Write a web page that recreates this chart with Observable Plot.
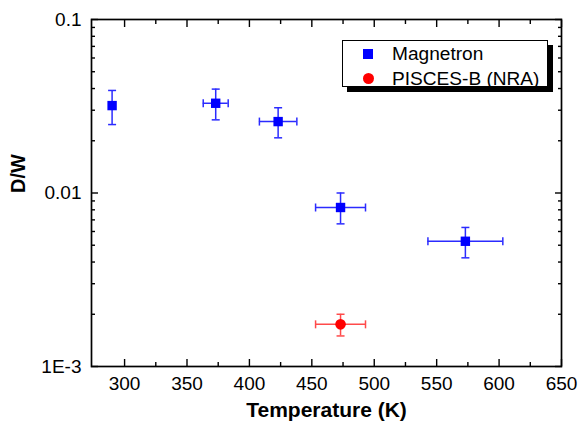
<!DOCTYPE html>
<html><head><meta charset="utf-8">
<script src="https://cdn.jsdelivr.net/npm/d3@7"></script>
<script src="https://cdn.jsdelivr.net/npm/@observablehq/plot@0.6"></script>
<style>
body{margin:0;background:#fff;font-family:"Liberation Sans",Arial,sans-serif;}
#wrap{position:relative;width:579px;height:425px;}
#legend{position:absolute;left:342px;top:40px;width:204px;height:45px;border:1px solid #000;background:#fff;box-shadow:5px 5px 0 #000;font-size:19.1px;color:#000;}
#legend .row{position:absolute;left:0;height:22px;line-height:22px;white-space:nowrap;}
#legend .sw{position:absolute;left:20px;top:6px;width:10px;height:10px;}
#legend .tx{position:absolute;left:49px;top:0;}
</style></head><body><div id="wrap"></div>
<script>
// data
const series = ["Magnetron","Magnetron","Magnetron","Magnetron","Magnetron","PISCES-B (NRA)"];
const temperature = [290, 373, 423, 473, 573, 473];
const tempErr = [0, 10, 15, 20, 30, 20];
const dw = [0.0319, 0.0329, 0.0258, 0.00825, 0.00527, 0.00175];
const dwLow = [0.0248, 0.0264, 0.0208, 0.00664, 0.00423, 0.00150];
const dwHigh = [0.0390, 0.0397, 0.0310, 0.0100, 0.00633, 0.00200];

const legendNames = ["Magnetron", "PISCES-B (NRA)"];
const legendColors = ["#0000ff", "#ff0000"];
const errColors = {"Magnetron": "#2b2bff", "PISCES-B (NRA)": "#ff4a4a"};

const xMajor = [300, 350, 400, 450, 500, 550, 600, 650];
const xMinor = [325, 375, 425, 475, 525, 575, 625];
const yMajor = [0.001, 0.01, 0.1];
const yMajorLabels = ["1E-3", "0.01", "0.1"];
const yMinor = [0.002,0.003,0.004,0.005,0.006,0.007,0.008,0.009,0.02,0.03,0.04,0.05,0.06,0.07,0.08,0.09];

const rows = series.map((s, i) => ({
  s, x: temperature[i], xe: tempErr[i], y: dw[i], lo: dwLow[i], hi: dwHigh[i]
}));
const xErrRows = rows.filter(d => d.xe > 0);

const capV = {draw(ctx, size){ const h = Math.sqrt(size / Math.PI); ctx.moveTo(0, -h); ctx.lineTo(0, h); }};
const capH = {draw(ctx, size){ const h = Math.sqrt(size / Math.PI); ctx.moveTo(-h, 0); ctx.lineTo(h, 0); }};

const fontTick = 19;
const chart = Plot.plot({
  width: 579, height: 425,
  marginLeft: 91, marginRight: 18, marginTop: 19, marginBottom: 59,
  style: {fontFamily: '"Liberation Sans", Arial, sans-serif', background: "#fff", color: "#000"},
  x: {domain: [273.5, 650]},
  y: {type: "log", domain: [0.001, 0.1]},
  marks: [
    Plot.axisX({anchor: "bottom", ticks: xMajor, tickSize: -7, tickPadding: 17, fontSize: fontTick, tickFormat: d => String(d), label: null, strokeWidth: 1.4}),
    Plot.axisX({anchor: "bottom", ticks: xMinor, tickSize: -4, tickFormat: () => "", label: null, strokeWidth: 1.4}),
    Plot.axisX({anchor: "top", ticks: xMajor, tickSize: -7, tickFormat: () => "", label: null, strokeWidth: 1.4}),
    Plot.axisX({anchor: "top", ticks: xMinor, tickSize: -4, tickFormat: () => "", label: null, strokeWidth: 1.4}),
    Plot.axisY({anchor: "left", ticks: yMajor, tickSize: -7, tickPadding: 17, fontSize: fontTick, tickFormat: d => yMajorLabels[yMajor.indexOf(d)], label: null, strokeWidth: 1.4}),
    Plot.axisY({anchor: "left", ticks: yMinor, tickSize: -4, tickFormat: () => "", label: null, strokeWidth: 1.4}),
    Plot.axisY({anchor: "right", ticks: yMajor, tickSize: -7, tickFormat: () => "", label: null, strokeWidth: 1.4}),
    Plot.axisY({anchor: "right", ticks: yMinor, tickSize: -4, tickFormat: () => "", label: null, strokeWidth: 1.4}),
    Plot.frame({stroke: "#000", strokeWidth: 1.7}),
    Plot.text(["Temperature (K)"], {frameAnchor: "bottom", dy: 44, fontSize: 21, fontWeight: "bold", lineAnchor: "middle"}),
    Plot.text(["D/W"], {frameAnchor: "left", dx: -73, rotate: -90, fontSize: 20, fontWeight: "bold"}),
    Plot.ruleX(rows, {x: "x", y1: "lo", y2: "hi", stroke: d => errColors[d.s], strokeWidth: 1.5}),
    Plot.dot(rows, {x: "x", y: "lo", symbol: capH, r: 4, stroke: d => errColors[d.s], strokeWidth: 1.5}),
    Plot.dot(rows, {x: "x", y: "hi", symbol: capH, r: 4, stroke: d => errColors[d.s], strokeWidth: 1.5}),
    Plot.ruleY(xErrRows, {y: "y", x1: d => d.x - d.xe, x2: d => d.x + d.xe, stroke: d => errColors[d.s], strokeWidth: 1.5}),
    Plot.dot(xErrRows, {x: d => d.x - d.xe, y: "y", symbol: capV, r: 4, stroke: d => errColors[d.s], strokeWidth: 1.5}),
    Plot.dot(xErrRows, {x: d => d.x + d.xe, y: "y", symbol: capV, r: 4, stroke: d => errColors[d.s], strokeWidth: 1.5}),
    Plot.dot(rows.filter(d => d.s === legendNames[0]), {x: "x", y: "y", symbol: "square", r: 5.3, fill: legendColors[0], stroke: "none"}),
    Plot.dot(rows.filter(d => d.s === legendNames[1]), {x: "x", y: "y", symbol: "circle", r: 5.3, fill: legendColors[1], stroke: "none"})
  ]
});
const wrap = document.getElementById("wrap");
wrap.appendChild(chart);

const leg = document.createElement("div");
leg.id = "legend";
legendNames.forEach((name, i) => {
  const row = document.createElement("div");
  row.className = "row";
  row.style.top = (2 + i * 25) + "px";
  const sw = document.createElement("div");
  sw.className = "sw";
  sw.style.background = legendColors[i];
  if (i === 1) { sw.style.borderRadius = "50%"; sw.style.width = "11px"; sw.style.height = "11px"; sw.style.left = "20px"; sw.style.top = "5px"; }
  const tx = document.createElement("span");
  tx.className = "tx";
  tx.textContent = name;
  row.appendChild(sw); row.appendChild(tx);
  leg.appendChild(row);
});
wrap.appendChild(leg);
</script>
</body></html>
